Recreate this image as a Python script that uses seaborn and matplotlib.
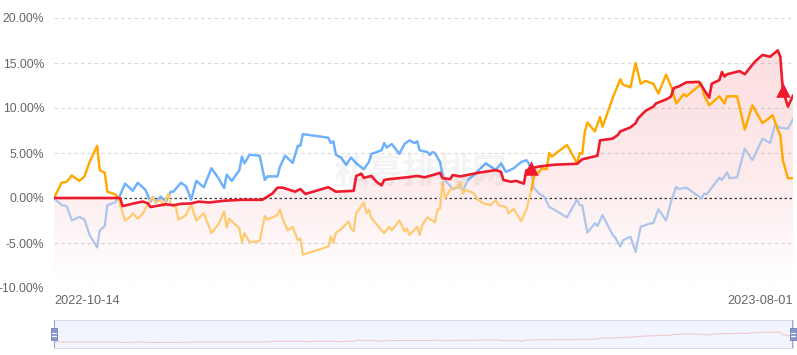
import numpy as np
import pandas as pd
import seaborn as sns
import matplotlib.pyplot as plt
import matplotlib.dates as mdates
from matplotlib.colors import LinearSegmentedColormap
from matplotlib.patches import Rectangle

start = pd.Timestamp("2022-10-14")
end = pd.Timestamp("2023-08-01")

# days after 2022-10-14 / cumulative return in %
red_day = [0, 26, 27, 33, 35, 37, 38, 40, 44, 47, 50, 54, 57, 61, 67, 74, 82, 86, 88, 90,
           95, 97, 99, 108, 111, 118, 119, 121, 122, 125, 127, 129, 130, 132, 139, 143, 146, 151, 152, 153,
           156, 157, 160, 167, 174, 176, 177, 180, 182, 185, 186, 188, 191, 197, 206, 208, 214, 215, 220, 222,
           223, 227, 229, 230, 233, 236, 237, 241, 242, 243, 244, 246, 249, 254, 258, 259, 262, 263, 264, 265,
           270, 272, 276, 279, 282, 285, 286, 287, 289, 291]
red_val = [0.0, 0.0, -0.9, -0.5, -0.4, -0.6, -1.0, -0.9, -0.7, -0.8, -0.65, -0.6, -0.4, -0.5, -0.3, -0.2, -0.2, 0.5, 1.15, 1.15,
           0.7, 1.0, 0.45, 1.2, 0.7, 0.8, 2.45, 2.7, 2.25, 2.45, 1.8, 1.4, 2.0, 2.1, 2.3, 2.45, 2.3, 2.7, 2.8, 2.2,
           2.1, 2.55, 2.4, 2.8, 3.1, 2.9, 2.0, 1.8, 1.9, 1.6, 3.05, 3.3, 3.5, 3.7, 3.8, 4.3, 4.7, 6.4, 6.6, 7.0,
           7.4, 7.85, 8.3, 8.85, 9.7, 10.15, 10.5, 10.95, 11.1, 11.3, 12.2, 12.4, 12.85, 12.9, 11.15, 12.7, 13.1, 14.0, 13.5, 13.75,
           14.1, 13.75, 15.15, 15.9, 15.7, 16.4, 15.7, 12.0, 10.15, 11.4]

orange_day = [0, 3, 5, 7, 10, 12, 14, 17, 18, 20, 21, 24, 25, 28, 30, 31, 33, 35, 38, 39,
              40, 42, 43, 45, 46, 48, 49, 52, 54, 56, 59, 62, 65, 67, 68, 69, 73, 74, 75, 77,
              81, 83, 84, 88, 89, 90, 92, 94, 96, 97, 98, 108, 109, 110, 111, 113, 116, 117, 118, 119,
              122, 123, 124, 125, 130, 132, 133, 136, 138, 139, 140, 143, 144, 145, 147, 150, 151, 152, 153, 154,
              156, 157, 159, 160, 161, 162, 165, 167, 169, 172, 174, 175, 178, 179, 181, 184, 186, 188, 189, 191,
              192, 194, 195, 196, 202, 206, 207, 208, 209, 210, 213, 215, 216, 220, 223, 224, 227, 229, 231, 233,
              236, 238, 241, 243, 245, 248, 249, 255, 256, 258, 262, 264, 265, 269, 272, 275, 279, 283, 285, 286,
              287, 289, 291]
orange_val = [0.0, 1.7, 1.8, 2.5, 1.9, 2.4, 4.0, 5.8, 3.1, 2.8, 0.7, 0.4, 0.15, -2.5, -2.1, -1.7, -2.3, -1.7, -0.2, 0.1,
              -0.5, -0.2, -0.9, 0.5, -0.8, -1.0, -2.4, -1.9, -0.7, -2.5, -1.7, -3.9, -2.8, -1.5, -3.3, -2.3, -3.4, -4.9, -3.9, -4.9,
              -4.8, -2.0, -2.4, -1.9, -1.3, -2.3, -3.6, -3.2, -4.7, -4.5, -6.3, -5.4, -4.3, -5.0, -3.85, -3.5, -2.6, -3.4, -3.7, -1.7,
              -0.5, -1.7, -1.3, -2.25, -3.9, -3.2, -3.6, -2.5, -3.7, -3.4, -4.1, -3.2, -4.1, -3.0, -2.15, -2.7, -1.3, -1.15, 1.8, -0.05,
              0.9, 1.1, 1.2, 1.8, 0.5, 0.9, 0.6, -0.2, -0.6, -0.8, -0.2, -0.8, -1.0, -1.7, -1.2, -2.6, -1.3, 0.9, 2.4, 2.9,
              3.3, 3.2, 5.0, 4.6, 5.9, 3.85, 5.0, 4.9, 7.3, 8.4, 7.4, 9.0, 7.9, 11.1, 13.2, 12.6, 12.3, 15.0, 12.7, 13.0,
              12.7, 11.6, 13.7, 12.4, 10.5, 11.55, 11.3, 12.7, 11.4, 10.3, 11.3, 10.5, 11.3, 11.3, 7.6, 10.3, 8.3, 9.2, 7.6, 7.0,
              4.2, 2.2, 2.2]

blue_day = [0, 3, 5, 7, 10, 12, 14, 17, 18, 20, 21, 24, 26, 28, 31, 33, 36, 38, 39, 40,
            42, 44, 46, 47, 50, 52, 54, 56, 59, 62, 65, 67, 68, 70, 73, 74, 75, 77, 81, 83,
            84, 88, 89, 91, 94, 96, 97, 98, 108, 109, 110, 111, 113, 115, 117, 119, 122, 124, 125, 129,
            130, 131, 133, 136, 138, 140, 142, 143, 144, 147, 148, 149, 150, 152, 153, 154, 157, 160, 161, 163,
            166, 168, 170, 174, 176, 178, 181, 184, 186, 187, 188, 189, 191, 193, 195, 197, 202, 206, 207, 208,
            210, 213, 214, 216, 220, 221, 223, 224, 227, 229, 231, 235, 236, 238, 241, 243, 245, 246, 249, 255,
            256, 257, 262, 263, 265, 266, 269, 272, 275, 279, 282, 284, 286, 289, 291]
blue_val = [0.0, -0.8, -0.9, -2.5, -2.1, -2.4, -4.1, -5.5, -3.6, -3.1, -0.8, -0.5, 0.3, 1.6, 0.8, 1.7, 0.9, -0.4, 0.1, -0.5,
            0.15, -0.4, 0.7, 0.7, 1.7, 1.3, -0.2, 1.9, 1.2, 3.3, 2.1, 1.1, 2.6, 1.9, 3.1, 4.6, 3.85, 4.8, 4.7, 2.0,
            2.4, 2.4, 3.5, 4.7, 3.9, 5.8, 5.8, 7.1, 6.7, 6.1, 6.3, 4.8, 4.5, 3.7, 4.5, 3.85, 3.2, 4.0, 4.9, 5.3,
            6.1, 5.6, 6.0, 4.9, 6.0, 6.4, 6.1, 6.3, 5.3, 5.1, 4.8, 5.1, 5.0, 4.0, 2.6, 2.0, 1.0, 1.2, 0.8, 2.0,
            2.7, 3.3, 3.85, 3.1, 3.85, 2.9, 3.3, 4.0, 4.2, 3.85, 2.7, 1.1, 0.5, 0.15, -1.0, -1.3, -2.15, -0.15, -0.8, -0.8,
            -3.85, -2.8, -3.1, -1.9, -4.1, -4.4, -5.4, -4.7, -4.3, -6.0, -3.2, -2.8, -2.8, -1.25, -2.5, -0.4, 1.25, 1.0, 1.15, -0.05,
            0.5, 0.4, 2.25, 2.0, 2.85, 2.2, 2.3, 5.5, 4.2, 6.6, 6.1, 8.2, 7.8, 7.7, 8.8]

# periods where each component line is shown in its strong colour
orange_hi = [(0, 25), (188, 291)]
blue_hi = [(26, 153), (163, 188)]
signal_day = [188, 287]

y_ticks = [-10, -5, 0, 5, 10, 15, 20]
watermark = "私募排排网"


def frame(days, vals):
    df = pd.DataFrame({"day": days, "val": vals})
    df["date"] = start + pd.to_timedelta(df["day"], unit="D")
    return df


red = frame(red_day, red_val)
orange = frame(orange_day, orange_val)
blue = frame(blue_day, blue_val)

sns.set_theme(style="white")
plt.rcParams["font.family"] = ["Liberation Sans", "Noto Sans CJK SC", "DejaVu Sans"]

fig = plt.figure(figsize=(7.97, 3.55), dpi=100)
ax = fig.add_axes([54 / 797, 67 / 355, 739 / 797, 270 / 355])

# grid
for t in y_ticks:
    if t == 0:
        ax.axhline(0, color="#333333", lw=0.9, ls=(0, (2, 2)), zorder=2)
    else:
        ax.axhline(t, color="#d9d9d9", lw=0.8, ls=(0, (3, 3)), zorder=0)

# gradient area under the red line
poly = ax.fill_between(red["date"], red["val"], -10, color="none", lw=0)
grad = np.linspace(0, 1, 256).reshape(-1, 1)
cmap = LinearSegmentedColormap.from_list(
    "area", [(0.93, 0.15, 0.2, 0.0), (0.93, 0.15, 0.2, 0.10), (0.93, 0.15, 0.2, 0.15)], N=256)
x0, x1 = mdates.date2num(start), mdates.date2num(end)
im = ax.imshow(grad, extent=[x0, x1, -10, max(red_val)], origin="lower", aspect="auto",
               cmap=cmap, zorder=1, interpolation="bilinear")
im.set_clip_path(poly.get_paths()[0], transform=ax.transData)

# component lines: pale everywhere, strong in highlighted periods
def draw(df, pale, strong, periods, z):
    sns.lineplot(data=df, x="date", y="val", color=pale, lw=1.6, ax=ax, zorder=z, sort=False)
    for a, b in periods:
        sub = df[(df["day"] >= a) & (df["day"] <= b)]
        sns.lineplot(data=sub, x="date", y="val", color=strong, lw=1.6, ax=ax, zorder=z + 0.5, sort=False)


draw(blue, "#aec5ec", "#6cb2ff", blue_hi, 3)
draw(orange, "#ffca72", "#ffaa00", orange_hi, 4)
sns.lineplot(data=red, x="date", y="val", color="#ee1b2d", lw=1.9, ax=ax, zorder=6, sort=False)

sig = red[red["day"].isin(signal_day)]
ax.scatter(sig["date"], sig["val"], marker="^", s=110, color="#f0192b", zorder=7, linewidths=0)

ax.text(0.495, 0.43, watermark, transform=ax.transAxes, ha="center", va="center",
        fontsize=25, fontweight="bold", color="#000000", alpha=0.045, zorder=5,
        family=["Noto Sans CJK SC", "DejaVu Sans"])

ax.set_xlim(x0, x1)
ax.set_ylim(-10, 20)
ax.set_yticks(y_ticks)
ax.set_yticklabels([f"{t:.2f}%" for t in y_ticks])
ax.set_xticks([start, end])
ax.set_xticklabels([start.strftime("%Y-%m-%d"), end.strftime("%Y-%m-%d")])
xl = ax.get_xticklabels()
xl[0].set_ha("left")
xl[1].set_ha("right")
ax.tick_params(axis="y", length=0, pad=7, labelsize=8.7, labelcolor="#666666")
ax.tick_params(axis="x", length=0, pad=5, labelsize=9.2, labelcolor="#666666")
ax.set_xlabel("")
ax.set_ylabel("")
for s in ax.spines.values():
    s.set_visible(False)

# data zoom slider
ax2 = fig.add_axes([54 / 797, 7 / 355, 739 / 797, 28 / 355])
ax2.set_facecolor("#f2f5fd")
sns.lineplot(data=red, x="date", y="val", color="#f1c9cb", lw=0.8, ax=ax2)
ax2.set_xlim(x0, x1)
ax2.set_ylim(-10, 36)
ax2.set_xticks([])
ax2.set_yticks([])
ax2.set_xlabel("")
ax2.set_ylabel("")
for s in ax2.spines.values():
    s.set_color("#d3dbee")
    s.set_linewidth(0.8)
for hx in (0, 1):
    ax2.axvline(x0 if hx == 0 else x1, color="#8f9bc9", lw=1.2, zorder=5)
    ax2.add_patch(Rectangle((hx - 0.0045, 0.28), 0.009, 0.42, transform=ax2.transAxes,
                            facecolor="#8c99cb", edgecolor="#6f7db8", lw=0.6, zorder=6, clip_on=False))
    for yy in (0.44, 0.54):
        ax2.plot([hx - 0.0025, hx + 0.0025], [yy, yy], transform=ax2.transAxes,
                 color="white", lw=0.8, zorder=7, clip_on=False)

fig.savefig("out.png", dpi=100)
